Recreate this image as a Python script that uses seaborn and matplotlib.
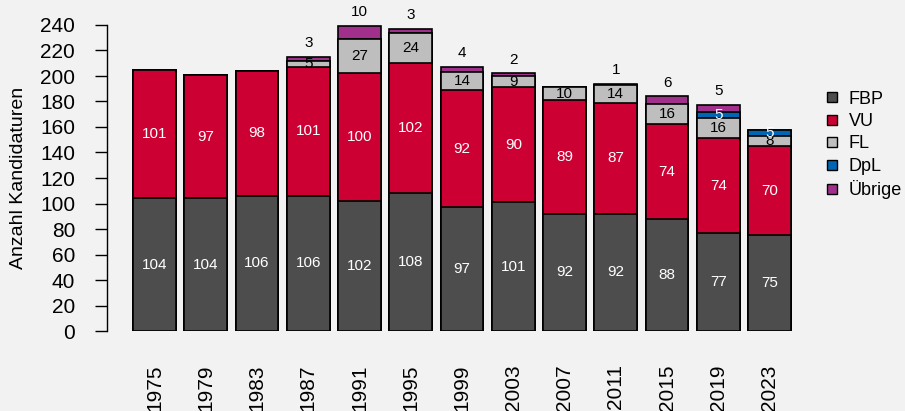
import numpy as np
import pandas as pd
import seaborn as sns
import matplotlib.pyplot as plt
from matplotlib.lines import Line2D

# Kandidaturen je Partei und Wahljahr
years = ['1975', '1979', '1983', '1987', '1991', '1995', '1999',
         '2003', '2007', '2011', '2015', '2019', '2023']
fbp = [104, 104, 106, 106, 102, 108, 97, 101, 92, 92, 88, 77, 75]
vu = [101, 97, 98, 101, 100, 102, 92, 90, 89, 87, 74, 74, 70]
fl = [0, 0, 0, 5, 27, 24, 14, 9, 10, 14, 16, 16, 8]
dpl = [0, 0, 0, 0, 0, 0, 0, 0, 0, 0, 0, 5, 5]
uebrige = [0, 0, 0, 3, 10, 3, 4, 2, 0, 1, 6, 5, 0]

parties = ['FBP', 'VU', 'FL', 'DpL', 'Übrige']
colors = {'FBP': '#4d4d4d', 'VU': '#cc0033', 'FL': '#bebebe',
          'DpL': '#0066b3', 'Übrige': '#a0308c'}
text_colors = {'FBP': 'white', 'VU': 'white', 'FL': 'black', 'DpL': 'white'}

df = pd.DataFrame({'Jahr': years, 'FBP': fbp, 'VU': vu, 'FL': fl,
                   'DpL': dpl, 'Übrige': uebrige})
cum = df[parties].cumsum(axis=1)

sns.set_style('ticks')
plt.rcParams['font.family'] = ['Liberation Sans', 'DejaVu Sans']
plt.rcParams['text.color'] = 'black'
plt.rcParams['axes.labelcolor'] = 'black'
plt.rcParams['xtick.color'] = 'black'
plt.rcParams['ytick.color'] = 'black'

bg = '#f2f2f2'
fig = plt.figure(figsize=(9.05, 4.11), dpi=100, facecolor=bg)
ax = fig.add_axes([107 / 905, 80 / 411, (800 - 107) / 905, 306 / 411])
ax.set_facecolor(bg)

# stacked bars: draw cumulative totals from the top down
for p in reversed(parties):
    sns.barplot(x=df['Jahr'], y=cum[p], color=colors[p], saturation=1,
                edgecolor='black', linewidth=1.2, width=0.835, ax=ax)

# segment labels
for i in range(len(years)):
    bottom = 0
    for p in parties[:-1]:
        v = df[p][i]
        if v > 0:
            ax.text(i, bottom + v / 2, str(v), ha='center', va='center',
                    color=text_colors[p], fontsize=11)
        bottom += v
    if df['Übrige'][i] > 0:
        ax.annotate(str(df['Übrige'][i]), (i, cum['Übrige'][i]),
                    xytext=(0, 10), textcoords='offset points',
                    ha='center', va='center', fontsize=11)

ax.set_xlim(-0.927, 12.595)
ax.set_ylim(0, 240)
ax.set_yticks(range(0, 241, 20))
ax.tick_params(axis='y', length=9, width=1, pad=14, labelsize=15)
ax.tick_params(axis='x', length=0, pad=24, labelsize=15, labelrotation=90)
for s in ['top', 'right', 'bottom']:
    ax.spines[s].set_visible(False)
ax.spines['left'].set_bounds(0, 240)
ax.spines['left'].set_linewidth(1)
ax.spines['left'].set_color('black')

ax.set_xlabel('')
ax.set_ylabel('Anzahl Kandidaturen', fontsize=14)
ax.yaxis.set_label_coords(-0.1154, 0.5)

handles = [Line2D([], [], marker='s', linestyle='', markersize=7,
                  markerfacecolor=colors[p], markeredgecolor='black',
                  markeredgewidth=1) for p in parties]
fig.legend(handles, parties, loc='center left',
           bbox_to_anchor=(818 / 905, 1 - 145 / 411), frameon=False,
           fontsize=13, handlelength=0.8, handletextpad=0.5,
           labelspacing=0.3, borderaxespad=0)

fig.savefig('out.png', dpi=100, facecolor=bg)
